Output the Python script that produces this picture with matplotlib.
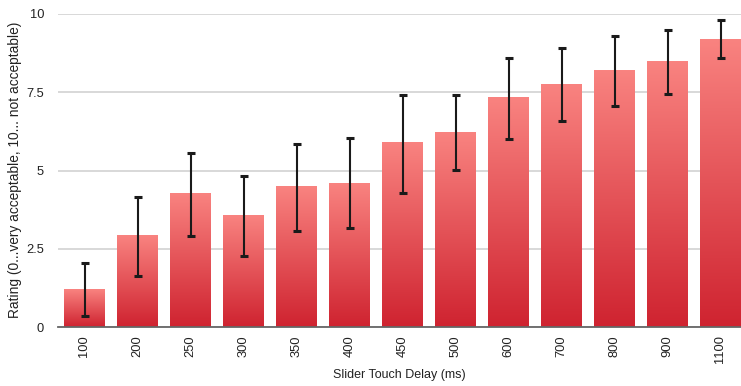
from matplotlib import pyplot as plt
from matplotlib.colors import LinearSegmentedColormap
import numpy as np

delays = ['100', '200', '250', '300', '350', '400', '450', '500', '600', '700', '800', '900', '1100']
rating = [1.21, 2.91, 4.25, 3.55, 4.50, 4.60, 5.88, 6.23, 7.32, 7.76, 8.18, 8.47, 9.20]
err_hi = [2.05, 4.16, 5.56, 4.83, 5.85, 6.04, 7.41, 7.41, 8.60, 8.91, 9.30, 9.50, 9.82]
err_lo = [0.36, 1.63, 2.92, 2.28, 3.07, 3.16, 4.28, 5.02, 6.00, 6.58, 7.06, 7.45, 8.60]

plt.rcParams['font.family'] = ['Liberation Sans', 'DejaVu Sans']

fig = plt.figure(figsize=(7.41, 3.86), dpi=100)
ax = fig.add_axes([58/741, 1-327/386, 689/741, 313/386])

x = np.arange(len(delays))
w = 0.755
cmap = LinearSegmentedColormap.from_list('bar', ['#cf2330', '#f98380'])
grad = np.linspace(0, 1, 256).reshape(-1, 1)

bars = ax.bar(x, rating, width=w, color='none', zorder=2)
for b, v in zip(bars, rating):
    x0 = b.get_x()
    ax.imshow(grad, cmap=cmap, origin='lower', aspect='auto',
              extent=[x0, x0 + w, 0, v], zorder=2)

lo = np.array(rating) - np.array(err_lo)
hi = np.array(err_hi) - np.array(rating)
ax.errorbar(x, rating, yerr=[lo, hi], fmt='none', ecolor='#1a1a1a',
            elinewidth=1.5, capsize=3, capthick=2.2, zorder=3)

ax.set_xlim(-0.5, 12.5)
ax.set_ylim(0, 10)
ax.set_yticks([0, 2.5, 5, 7.5, 10])
ax.set_yticklabels(['0', '2.5', '5', '7.5', '10'])
ax.set_xticks(x)
ax.set_xticklabels(delays, rotation=90)
ax.tick_params(length=0, labelsize=9.3, colors='#222222')
ax.tick_params(axis='y', pad=10)
ax.tick_params(axis='x', pad=6)
ax.yaxis.grid(True, color='#d2d2d2', linewidth=1.2, zorder=0)
ax.set_axisbelow(True)
for s in ['top', 'right', 'left']:
    ax.spines[s].set_visible(False)
ax.spines['bottom'].set_color('#666666')
ax.spines['bottom'].set_linewidth(1.3)
ax.spines['bottom'].set_zorder(4)

fig.text(399/741, 1-375/386, 'Slider Touch Delay (ms)', fontsize=9, color='#222222',
         ha='center', va='center')
fig.text(15/741, 1-170/386, 'Rating (0...very acceptable, 10... not acceptable)', fontsize=9.9,
         color='#222222', ha='center', va='center', rotation=90)

plt.savefig('out.png', dpi=100)
